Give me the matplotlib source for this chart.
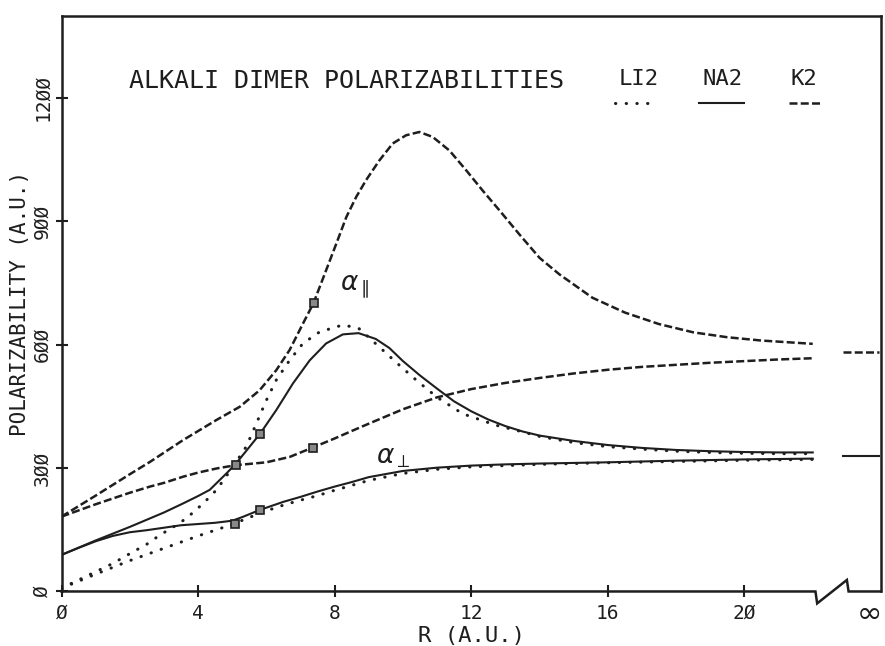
import numpy as np
import matplotlib
matplotlib.use("Agg")
import matplotlib.pyplot as plt

# values (R in a.u., alpha in a.u.)
k2_par_r = [0, 1, 2, 2.59, 3.56, 4.54, 5.22, 5.8, 6.29, 6.68, 7.07, 7.38, 7.75, 8.05, 8.34, 8.63, 8.92, 9.31,
            9.7, 10.09, 10.48, 10.87, 11.36, 11.85, 12.33, 12.82, 13.41, 14.0, 14.58, 15.55, 16.5, 17.5, 18.5,
            19.5, 20.5, 22.0]
k2_par = [182, 233, 285, 315, 368, 417, 449, 489, 538, 587, 651, 701, 781, 846, 910, 959, 1000, 1048,
          1089, 1109, 1117, 1105, 1072, 1024, 975, 927, 868, 811, 771, 714, 678, 650, 630,
          618, 610, 602]

k2_perp_r = [0, 1, 2, 2.59, 3, 3.56, 4, 4.54, 5.1, 6, 6.68, 7.36, 8, 8.44, 9, 10, 11, 12, 13, 14, 15, 16, 17,
             18, 19, 20, 21, 22]
k2_perp = [182, 212, 240, 255, 264, 279, 289, 299, 307, 314, 327, 350, 372, 388, 408, 443, 472, 492, 507,
           519, 530, 539, 546, 551, 556, 560, 564, 567]

na2_par_r = [0, 1, 2, 2.6, 3, 3.56, 4, 4.34, 4.83, 5.1, 5.51, 5.82, 6.29, 6.78, 7.27, 7.75, 8.24, 8.7, 9.2,
             9.6, 10, 10.5, 11, 11.5, 12, 12.5, 13, 13.5, 14, 15, 16, 17, 18, 19, 20, 21, 22]
na2_par = [89, 124, 157, 178, 192, 214, 232, 247, 287, 310, 352, 384, 441, 506, 562, 603, 625, 628, 614,
           592, 560, 525, 493, 462, 438, 418, 402, 389, 379, 366, 356, 349, 344, 341, 339, 338, 338]

na2_perp_r = [0, 0.5, 1, 1.5, 2, 2.5, 3, 3.5, 4, 4.5, 5, 5.3, 5.8, 6.5, 7, 7.5, 8, 8.5, 9, 10, 11, 12, 13, 14,
              16, 18, 20, 22]
na2_perp = [89, 106, 122, 135, 144, 149, 155, 161, 164, 167, 172, 181, 198, 218, 230, 243, 255, 266, 278, 293,
            301, 306, 309, 311, 314, 318, 321, 323]

li2_par_r = [0, 0.5, 1, 1.5, 2, 2.5, 2.88, 3.3, 3.66, 4.15, 4.54, 5.02, 5.41, 5.71, 6.0, 6.29, 6.68, 7.07,
             7.56, 8.24, 8.7, 9.3, 9.8, 10.4, 11, 11.75, 12.73, 13.5, 14, 15, 16, 17, 18, 19, 20, 21, 22]
li2_par = [8, 28, 48, 68, 92, 115, 137, 158, 178, 214, 247, 303, 352, 409, 465, 514, 562, 603,
           631, 648, 640, 595, 557, 513, 472, 432, 404, 388, 377, 362, 352, 346, 341, 338, 336, 335, 335]

li2_perp_r = [0, 1, 2, 3, 4, 5, 5.5, 6, 6.5, 7, 7.5, 8, 8.5, 9, 10, 11, 12, 14, 16, 18, 20, 22]
li2_perp = [8, 42, 75, 105, 135, 163, 180, 196, 210, 222, 233, 246, 258, 270, 287, 297, 303, 309, 313, 316,
            319, 321]

# marked points on the curves
k2_mark_r = [7.38, 5.1, 7.36]
k2_mark = [701, 308, 350]
na2_mark_r = [5.82, 5.82]
na2_mark = [384, 199]
li2_mark_r = [5.07]
li2_mark = [164]

# separated-atom limits drawn past the axis break
inf_r = [22.9, 23.95]
k2_inf = 582
na2_inf = 330

x_ticks = [0, 4, 8, 12, 16, 20]
x_labels = ["Ø", "4", "8", "12", "16", "2Ø"]
y_ticks = [0, 300, 600, 900, 1200]
y_labels = ["Ø", "3ØØ", "6ØØ", "9ØØ", "12ØØ"]

ink = "#1e1e1e"
mono = "DejaVu Sans Mono"
dash = (0, (3.2, 1.3))
dot = (0, (0.1, 3.4))

fig = plt.figure(figsize=(8.85, 6.46), dpi=100)
ax = fig.add_axes([0.0695, 0.0844, 0.926, 0.8915])
ax.set_xlim(0, 24)
ax.set_ylim(0, 1400)

# the six curves
ax.plot(k2_par_r, k2_par, color=ink, lw=1.8, linestyle=dash)
ax.plot(k2_perp_r, k2_perp, color=ink, lw=1.8, linestyle=dash)
ax.plot(na2_par_r, na2_par, color=ink, lw=1.5)
ax.plot(na2_perp_r, na2_perp, color=ink, lw=1.5)
ax.plot(li2_par_r, li2_par, color=ink, lw=2.2, linestyle=dot, dash_capstyle="round")
ax.plot(li2_perp_r, li2_perp, color=ink, lw=2.2, linestyle=dot, dash_capstyle="round")

for mr, mv in [(k2_mark_r, k2_mark), (na2_mark_r, na2_mark), (li2_mark_r, li2_mark)]:
    ax.plot(mr, mv, linestyle="none", marker="s", ms=6, mfc="#888888", mec=ink, mew=1.2)

ax.plot(inf_r, [k2_inf, k2_inf], color=ink, lw=1.8, linestyle=dash, clip_on=False)
ax.plot(inf_r, [na2_inf, na2_inf], color=ink, lw=1.5, clip_on=False)

# frame with the broken bottom axis
for s in ["left", "top", "right"]:
    ax.spines[s].set_linewidth(1.8)
    ax.spines[s].set_color(ink)
ax.spines["bottom"].set_visible(False)
ax.plot([0, 22.08, 22.13, 23.0, 23.05, 24], [0, 0, -29, 28, 0, 0], color=ink, lw=1.8, clip_on=False,
        solid_joinstyle="miter")

ax.set_xticks(x_ticks)
ax.set_xticklabels(x_labels, fontfamily=mono, fontsize=14, color=ink)
ax.set_yticks(y_ticks)
ax.set_yticklabels(y_labels, fontfamily=mono, fontsize=14, color=ink, rotation=90, va="center")
ax.tick_params(direction="inout", length=8, width=1.5, color=ink)
ax.tick_params(axis="x", pad=5)
ax.tick_params(axis="y", pad=3)
ax.text(23.65, -55, "∞", fontsize=22, ha="center", va="center", color=ink, clip_on=False)

ax.set_xlabel("R (A.U.)", fontfamily=mono, fontsize=16, color=ink, labelpad=2)
ax.set_ylabel("POLARIZABILITY (A.U.)", fontfamily=mono, fontsize=15, color=ink, labelpad=2)

ax.text(8.35, 1242, "ALKALI DIMER POLARIZABILITIES", fontfamily=mono, fontsize=18, ha="center",
        va="center", color=ink)

# legend: name above, line sample below
ax.text(16.9, 1247, "LI2", fontfamily=mono, fontsize=16, ha="center", va="center", color=ink)
ax.text(19.35, 1247, "NA2", fontfamily=mono, fontsize=16, ha="center", va="center", color=ink)
ax.text(21.75, 1247, "K2", fontfamily=mono, fontsize=16, ha="center", va="center", color=ink)
ax.plot([16.2, 17.4], [1187, 1187], color=ink, lw=2.2, linestyle=dot, dash_capstyle="round")
ax.plot([18.67, 19.98], [1187, 1187], color=ink, lw=1.5)
ax.plot([21.3, 22.2], [1187, 1187], color=ink, lw=1.8, linestyle=dash)

ax.text(8.6, 742, r"$\alpha_{\parallel}$", fontsize=19, ha="center", va="center", color=ink)
ax.text(9.72, 327, r"$\alpha_{\perp}$", fontsize=19, ha="center", va="center", color=ink)

fig.savefig("out.png", dpi=100, facecolor="white")
